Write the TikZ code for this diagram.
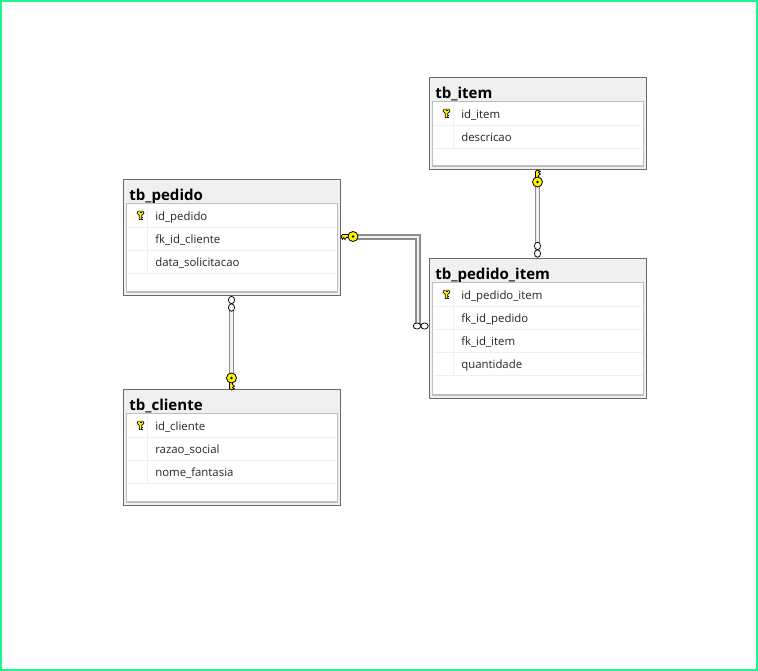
\documentclass[tikz,border=0pt]{standalone}
\usepackage{fontspec}
\setmainfont{Open Sans}
\usetikzlibrary{calc,shapes.geometric}
\definecolor{frameg}{HTML}{1DF58F}
\definecolor{tabedge}{HTML}{6A6A6A}
\definecolor{inneredge}{HTML}{BEBEBE}
\definecolor{headbg}{HTML}{F0F0F0}
\definecolor{rowline}{HTML}{EFEFEF}
\definecolor{keycell}{HTML}{F0F0F0}
\definecolor{keyy}{HTML}{FFF200}
\tikzset{
  x=0.75pt,y=-0.75pt,
  tablebox/.style={draw=tabedge,line width=0.8pt,fill=headbg,minimum width=162.4pt,inner sep=0pt,outer sep=0pt,anchor=north west},
  innerbox/.style={draw=inneredge,line width=0.8pt,fill=white},
  rowsep/.style={draw=rowline,line width=0.75pt},
  title/.style={anchor=base west,inner sep=0pt,font=\fontsize{11.3}{13}\selectfont\bfseries},
  field/.style={anchor=base west,inner sep=0pt,font=\fontsize{8.55}{10}\selectfont,text=black!85},
  linkout/.style={draw=black!45,line width=3.9pt},
  linkin/.style={draw=black!5,line width=1.7pt},
  ring/.style={ellipse,draw=black,line width=0.55pt,fill=white,minimum width=4.6pt,minimum height=5.6pt,inner sep=0pt},
  ringh/.style={ellipse,draw=black,line width=0.55pt,fill=white,minimum width=5.6pt,minimum height=4.6pt,inner sep=0pt},
  keydisc/.style={circle,draw=black,line width=0.6pt,fill=keyy,minimum size=7.5pt,inner sep=0pt},
}
% #1 name, #2 x, #3 y, #4 height in px, #5 title, #6 number of rows
\newcommand{\dbtable}[6]{%
  \node[tablebox,minimum height=#4*0.75pt+0.4pt] (#1) at (#2-0.5,#3-0.5) {};
  \node[title] (#1t) at (#2+5,#3+20) {#5};
  \fill[keycell] (#2+7,#3+27) rectangle (#2+21,#3+45);
  \draw[innerbox] (#2+2.6,#3+23.7) rectangle (#2+213.4,#3+#4-3);
  \foreach \r in {1,...,#6}{\draw[rowsep] (#2+4,#3+24+23*\r) -- (#2+212,#3+24+23*\r);}
  \draw[rowsep] (#2+23,#3+25) -- (#2+23,#3+24+23*#6);
}
% small table key in row one
\newcommand{\rowkey}[2]{%
  \begin{scope}[shift={(#1,#2)}]
    \fill[keyy,draw=black,line width=0.5pt] (-2.3,-2.9) -- (2.3,-2.9) -- (3.2,-1.6) -- (3.2,-0.4) -- (1.3,1.3) -- (1.3,5.6) -- (-1.2,5.6) -- (-1.2,1.3) -- (-3.2,-0.4) -- (-3.2,-1.6) -- cycle;
    \fill[black] (-1,-1.9) rectangle (1,-0.9);
    \draw[black,line width=0.6pt] (1.3,3) -- (2.6,3) (1.3,5) -- (2.6,5);
  \end{scope}}
% connector key: disc at origin, shaft along -x before rotation; #4 flips the teeth
\newcommand{\linkkey}[4]{%
  \begin{scope}[shift={(#1,#2)},rotate=#3,yscale=#4]
    \fill[keyy,draw=black,line width=0.55pt] (0,-2) -- (-10.5,-2) -- (-12,0) -- (-10.6,2.8) -- (-9.4,1) -- (-8,3) -- (-6.6,1) -- (0,1) -- cycle;
    \node[keydisc] at (0,0) {};
    \fill[black] (0,0) circle (1.4);
  \end{scope}}
\begin{document}
\begin{tikzpicture}
\useasboundingbox (0,0) rectangle (758,671);
\fill[white] (0,0) rectangle (758,671);
\draw[frameg,line width=1.5pt] (1,1) rectangle (757,670);

% Tables
\dbtable{pedido}{124}{180}{115}{tb\_pedido}{3}
\dbtable{cliente}{124}{390}{115}{tb\_cliente}{3}
\dbtable{item}{430}{78}{91}{tb\_item}{2}
\dbtable{pitem}{430}{259}{139}{tb\_pedido\_item}{4}

% Field texts
\node[field] (p1) at (155,220) {id\_pedido};
\node[field] (p2) at (155,243) {fk\_id\_cliente};
\node[field] (p3) at (155,266) {data\_solicitacao};
\node[field] (c1) at (155,430) {id\_cliente};
\node[field] (c2) at (155,453) {razao\_social};
\node[field] (c3) at (155,476) {nome\_fantasia};
\node[field] (i1) at (461,118) {id\_item};
\node[field] (i2) at (461,141) {descricao};
\node[field] (q1) at (461,299) {id\_pedido\_item};
\node[field] (q2) at (461,322) {fk\_id\_pedido};
\node[field] (q3) at (461,345) {fk\_id\_item};
\node[field] (q4) at (461,368) {quantidade};

\rowkey{140.5}{214}
\rowkey{140.5}{424}
\rowkey{446.5}{112}
\rowkey{446.5}{293}

% Connector end points
\coordinate (pedS) at ($(pedido.south west)+(108,0)$);
\coordinate (cliN) at ($(cliente.north west)+(108,0)$);
\coordinate (itmS) at ($(item.south west)+(108,0)$);
\coordinate (piN) at ($(pitem.north west)+(108,0)$);
\coordinate (pedE) at ($(pedido.north east)+(0,57.5)$);
\coordinate (piW) at ($(pitem.north west)+(0,67.5)$);
\coordinate (elbowA) at ($(pedE)+(78,0)$);
\coordinate (elbowB) at (elbowA |- piW);

% Connectors
\foreach \s in {linkout,linkin}{
  \draw[\s] ($(pedS)+(0,13)$) -- ($(cliN)+(0,-13)$);
  \draw[\s] ($(itmS)+(0,13)$) -- ($(piN)+(0,-13)$);
  \draw[\s] ($(pedE)+(12,0)$) -- (elbowA) -- (elbowB);
}

% Ends
\node[ring] (r1) at ($(pedS)+(0,5)$) {};
\node[ring] (r2) at ($(pedS)+(0,12.5)$) {};
\node[ring] (r3) at ($(piN)+(0,-5)$) {};
\node[ring] (r4) at ($(piN)+(0,-12.5)$) {};
\node[ringh] (r5) at ($(piW)+(-5,0)$) {};
\node[ringh] (r6) at ($(piW)+(-12.5,0)$) {};
\linkkey{353}{236.5}{0}{1}
\linkkey{231.5}{378}{90}{1}
\linkkey{537.5}{182}{-90}{-1}
\end{tikzpicture}
\end{document}
